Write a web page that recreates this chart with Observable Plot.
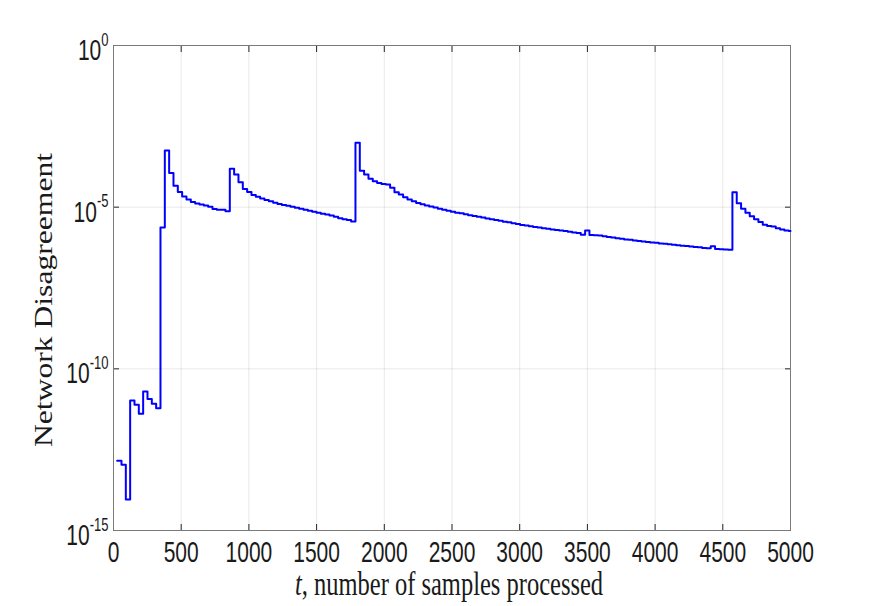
<!DOCTYPE html>
<html>
<head>
<meta charset="utf-8">
<script src="https://cdn.jsdelivr.net/npm/d3@7"></script>
<script src="https://cdn.jsdelivr.net/npm/@observablehq/plot@0.6"></script>
<style>
  html, body { margin: 0; padding: 0; background: #fff; }
  #chart { width: 872px; height: 606px; }
</style>
</head>
<body>
<div id="chart"></div>
<script>
// sample times (start of each step) and network disagreement (log10)
const sampleT = [
  27, 59, 91, 123, 155, 187, 219, 251, 283, 315,
  347, 379, 411, 443, 475, 507, 539, 571, 603, 635,
  667, 699, 731, 763, 795, 827, 859, 891, 923, 955,
  987, 1019, 1051, 1083, 1115, 1147, 1179, 1211, 1243, 1275,
  1307, 1339, 1371, 1403, 1435, 1467, 1499, 1531, 1563, 1595,
  1627, 1659, 1691, 1723, 1755, 1787, 1819, 1851, 1883, 1915,
  1947, 1979, 2011, 2043, 2075, 2107, 2139, 2171, 2203, 2235,
  2267, 2299, 2331, 2363, 2395, 2427, 2459, 2491, 2523, 2555,
  2587, 2619, 2651, 2683, 2715, 2747, 2779, 2811, 2843, 2875,
  2907, 2939, 2971, 3003, 3035, 3067, 3099, 3131, 3163, 3195,
  3227, 3259, 3291, 3323, 3355, 3387, 3419, 3451, 3483, 3515,
  3547, 3579, 3611, 3643, 3675, 3707, 3739, 3771, 3803, 3835,
  3867, 3899, 3931, 3963, 3995, 4027, 4059, 4091, 4123, 4155,
  4187, 4219, 4251, 4283, 4315, 4347, 4379, 4411, 4443, 4475,
  4507, 4539, 4571, 4603, 4635, 4667, 4699, 4731, 4763, 4795,
  4827, 4859, 4891, 4923, 4955, 4987, 5000
];
const logDisagreement = [
  -12.84, -12.97, -14.04, -10.98, -11.11, -11.39, -10.70, -10.93, -11.08, -11.22,
  -5.63, -3.25, -3.94, -4.34, -4.53, -4.67, -4.76, -4.84, -4.89, -4.92,
  -4.95, -4.99, -5.06, -5.08, -5.08, -5.13, -3.81, -3.99, -4.23, -4.44,
  -4.53, -4.62, -4.68, -4.73, -4.78, -4.82, -4.86, -4.90, -4.93, -4.96,
  -4.99, -5.02, -5.05, -5.08, -5.11, -5.14, -5.17, -5.20, -5.23, -5.26,
  -5.30, -5.34, -5.37, -5.40, -5.44, -3.01, -3.87, -3.99, -4.12, -4.20,
  -4.25, -4.28, -4.30, -4.40, -4.54, -4.61, -4.69, -4.76, -4.82, -4.87,
  -4.91, -4.95, -4.98, -5.01, -5.05, -5.08, -5.11, -5.14, -5.17, -5.19,
  -5.22, -5.25, -5.27, -5.30, -5.32, -5.35, -5.37, -5.40, -5.42, -5.45,
  -5.47, -5.50, -5.52, -5.55, -5.57, -5.59, -5.61, -5.63, -5.65, -5.67,
  -5.69, -5.71, -5.72, -5.74, -5.76, -5.78, -5.80, -5.85, -5.72, -5.86,
  -5.87, -5.88, -5.90, -5.92, -5.94, -5.96, -5.98, -6.00, -6.01, -6.03,
  -6.05, -6.06, -6.08, -6.09, -6.10, -6.12, -6.13, -6.15, -6.16, -6.18,
  -6.19, -6.20, -6.22, -6.23, -6.24, -6.26, -6.27, -6.21, -6.29, -6.30,
  -6.31, -6.32, -4.54, -4.88, -5.05, -5.17, -5.28, -5.37, -5.46, -5.54,
  -5.58, -5.60, -5.65, -5.69, -5.72, -5.74, -5.74
];
const xTicks = [0, 500, 1000, 1500, 2000, 2500, 3000, 3500, 4000, 4500, 5000];
const xTickLabels = ["0", "500", "1000", "1500", "2000", "2500", "3000", "3500", "4000", "4500", "5000"];
const yTicks = [1, 1e-5, 1e-10, 1e-15];
const yTickLabels = ["10^0", "10^-5", "10^-10", "10^-15"];
const xLabel = "t|, number of samples processed";
const yLabel = "Network Disagreement";

const data = sampleT.map((t, i) => ({t, v: Math.pow(10, logDisagreement[i])}));
const xTickData = xTicks.map((x, i) => ({x, label: xTickLabels[i]}));
const yTickData = yTicks.map((y, i) => ({y, label: yTickLabels[i]}));

const sansFont = "'Liberation Sans', Arial, sans-serif";
const serifFont = "'Liberation Serif', 'Times New Roman', serif";

const chart = Plot.plot({
  width: 872,
  height: 606,
  marginLeft: 113,
  marginRight: 82,
  marginTop: 45,
  marginBottom: 76,
  style: {background: "#fff", color: "#262626", overflow: "visible"},
  x: {domain: [0, 5000], axis: null},
  y: {type: "log", domain: [1e-15, 1], axis: null},
  marks: [
    Plot.gridX(xTicks, {stroke: "#000", strokeOpacity: 0.09}),
    Plot.gridY(yTicks, {stroke: "#000", strokeOpacity: 0.09}),
    Plot.axisX(xTicks, {anchor: "bottom", tickSize: -6, tickFormat: () => "", label: null}),
    Plot.axisX(xTicks, {anchor: "top", tickSize: -6, tickFormat: () => "", label: null}),
    Plot.axisY(yTicks, {anchor: "left", tickSize: -6, tickFormat: () => "", label: null}),
    Plot.axisY(yTicks, {anchor: "right", tickSize: -6, tickFormat: () => "", label: null}),
    Plot.frame({stroke: "#7a7a7a", strokeWidth: 1}),
    Plot.line(data, {x: "t", y: "v", curve: "step-after", stroke: "#0000ff", strokeWidth: 2}),
    Plot.text(xTickData, {x: "x", text: "label", frameAnchor: "bottom", dy: 31.5, lineAnchor: "bottom",
      textAnchor: "middle", fontSize: 21, fontFamily: sansFont, fill: "#1a1a1a"}),
    Plot.text(yTickData, {y: "y", text: "label", frameAnchor: "left", dx: -5, dy: 14.5, lineAnchor: "bottom",
      textAnchor: "end", fontSize: 21, fontFamily: sansFont, fill: "#1a1a1a"}),
    Plot.text([xLabel], {text: d => d, frameAnchor: "bottom", dx: -3, dy: 64, lineAnchor: "bottom",
      textAnchor: "middle", fontSize: 24.5, fontFamily: serifFont, fill: "#1a1a1a"}),
    Plot.text([yLabel], {text: d => d, frameAnchor: "left", dx: -61.3, dy: 12, rotate: -90, lineAnchor: "bottom",
      textAnchor: "middle", fontSize: 25.5, fontFamily: serifFont, fill: "#1a1a1a"})
  ]
});

document.getElementById("chart").appendChild(chart);

// the text marks, in the order they were declared
const textGroups = chart.querySelectorAll('g[aria-label="text"]');
const [gXtl, gYtl, gXlab, gYlab] = textGroups;

// MATLAB export stretched the text vertically; reproduce that look
const ns = "http://www.w3.org/2000/svg";
function stretch(g, sx, sy) {
  if (!g) return;
  g.querySelectorAll("text").forEach(t => {
    const tr = t.getAttribute("transform") || "";
    t.setAttribute("transform", `${tr} scale(${sx},${sy})`);
  });
}
// superscripts for y tick labels
if (gYtl) gYtl.querySelectorAll("text").forEach(t => {
  const [b, e] = t.textContent.split("^");
  t.textContent = "";
  const s1 = document.createElementNS(ns, "tspan");
  s1.textContent = b;
  const s2 = document.createElementNS(ns, "tspan");
  s2.setAttribute("dy", "-10.3");
  s2.setAttribute("font-size", "13");
  s2.textContent = e;
  t.appendChild(s1);
  t.appendChild(s2);
});
// italic t in x label
if (gXlab) gXlab.querySelectorAll("text").forEach(t => {
  const [a, b] = t.textContent.split("|");
  t.textContent = "";
  const s1 = document.createElementNS(ns, "tspan");
  s1.setAttribute("font-style", "italic");
  s1.textContent = a;
  const s2 = document.createElementNS(ns, "tspan");
  s2.textContent = b;
  t.appendChild(s1);
  t.appendChild(s2);
});
stretch(gXtl, 1, 1.42);
stretch(gYtl, 1, 1.4);
stretch(gXlab, 1, 1.38);
stretch(gYlab, 1.24, 1);
</script>
</body>
</html>
